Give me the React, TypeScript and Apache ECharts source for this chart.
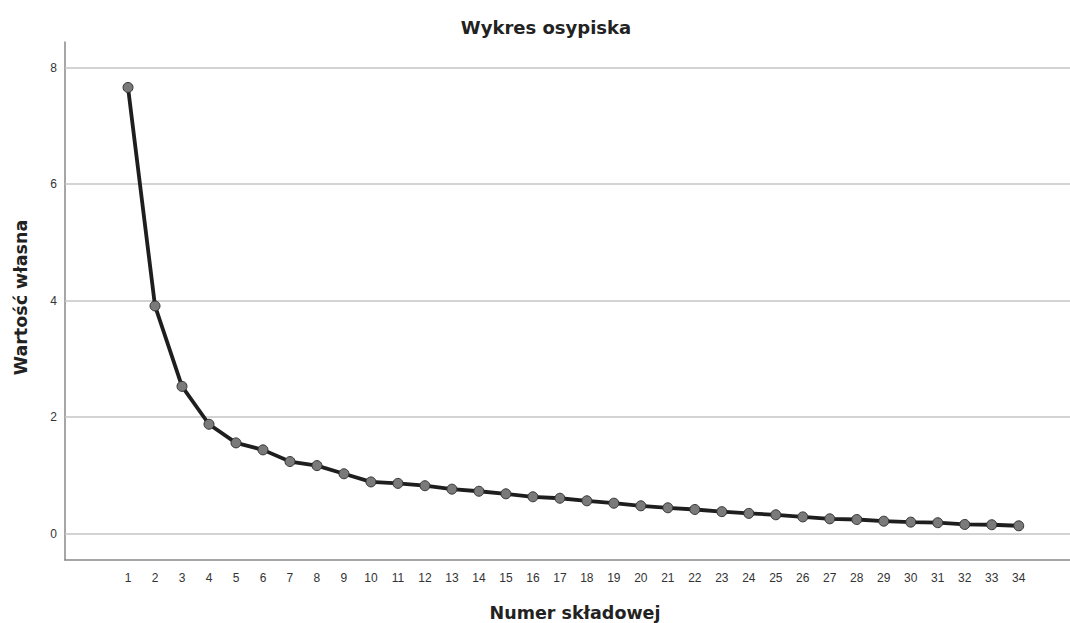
import React, { useEffect, useRef } from "react";
import * as echarts from "echarts";

const components = [1,2,3,4,5,6,7,8,9,10,11,12,13,14,15,16,17,18,19,20,21,22,23,24,25,26,27,28,29,30,31,32,33,34];
const eigenvalues = [7.66,3.91,2.53,1.88,1.56,1.44,1.24,1.17,1.03,0.89,0.865,0.825,0.766,0.73,0.686,0.635,0.61,0.566,0.525,0.48,0.446,0.417,0.38,0.35,0.326,0.29,0.257,0.245,0.216,0.2,0.19,0.16,0.155,0.137];
const yTicks = [0, 2, 4, 6, 8];

const FONT = "'Liberation Sans', Arial, sans-serif";
const NAME_FONT = "'DejaVu Sans', sans-serif";

export default function App() {
  const ref = useRef<HTMLDivElement>(null);
  useEffect(() => {
    if (!ref.current) return;
    const chart = echarts.init(ref.current, null, { renderer: "svg" });
    chart.setOption({
      animation: false,
      backgroundColor: "#ffffff",
      title: {
        text: "Wykres osypiska",
        left: 541,
        top: 13,
        textAlign: "center",
        textStyle: { fontFamily: NAME_FONT, fontSize: 18, fontWeight: "bold", color: "#222" },
      },
      grid: { left: 65, right: 0, top: 42, bottom: 63, outerBoundsMode: "none", containLabel: false },
      xAxis: {
        type: "value",
        min: -1.335,
        max: 35.9,
        name: "Numer składowej",
        nameLocation: "middle",
        nameGap: 44,
        nameTextStyle: { fontFamily: NAME_FONT, fontSize: 17.5, fontWeight: "bold", color: "#222", padding: [0, 0, 0, 15] },
        axisLine: { show: true, onZero: false, lineStyle: { color: "#888", width: 1.5 } },
        axisTick: { show: false, customValues: components },
        axisLabel: { customValues: components, fontFamily: FONT, fontSize: 12, color: "#333", margin: 12 },
        splitLine: { show: false },
      },
      yAxis: {
        type: "value",
        min: -0.45,
        max: 8.44,
        name: "Wartość własna",
        nameLocation: "middle",
        nameGap: 35,
        nameTextStyle: { fontFamily: NAME_FONT, fontSize: 17.5, fontWeight: "bold", color: "#222", padding: [0, 0, 0, 7] },
        axisLine: { show: true, onZero: false, lineStyle: { color: "#888", width: 1.5 } },
        axisTick: { show: false, customValues: yTicks },
        axisLabel: { customValues: yTicks, fontFamily: FONT, fontSize: 12, color: "#333", margin: 8 },
        splitLine: { show: false },
      },
      series: [
        {
          type: "line",
          data: components.map((c, i) => [c, eigenvalues[i]]),
          symbol: "circle",
          symbolSize: 10,
          lineStyle: { color: "#1e1e1e", width: 3.8 },
          itemStyle: { color: "#7a7a7a", borderColor: "#333", borderWidth: 1 },
          z: 5,
          markLine: {
            silent: true,
            symbol: "none",
            label: { show: false },
            lineStyle: { color: "#c4c4c4", width: 1.5, type: "solid" },
            data: yTicks.map((v) => ({ yAxis: v })),
            z: 1,
          },
        },
      ],
    });
    return () => chart.dispose();
  }, []);
  return (
    <div
      ref={ref}
      style={{ position: "fixed", left: 0, top: 0, width: 1070, height: 623 }}
    />
  );
}
